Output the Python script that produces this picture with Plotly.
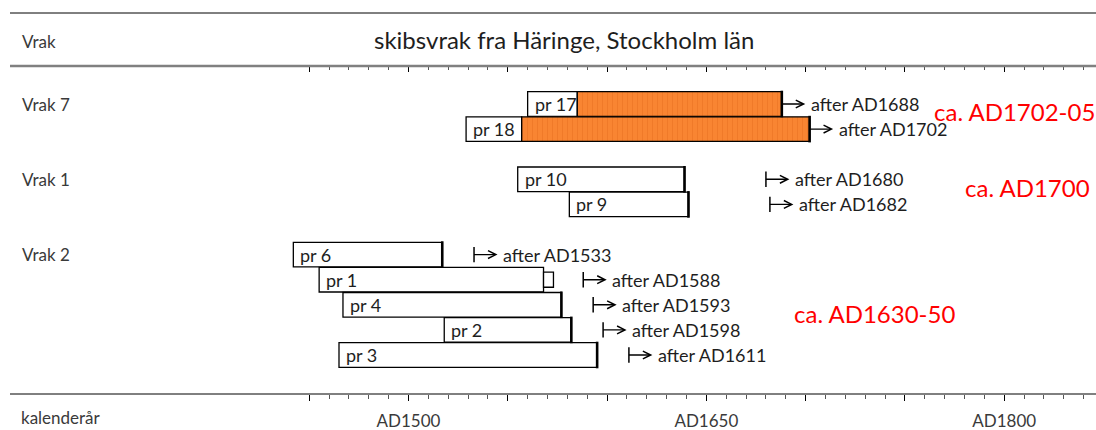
import plotly.graph_objects as go

# ---------------- data ----------------
samples      = ["pr 17", "pr 18", "pr 10", "pr 9", "pr 6", "pr 1", "pr 4", "pr 2", "pr 3"]
rows         = [0, 1, 3, 4, 6, 7, 8, 9, 10]
first_ring   = [1560, 1529, 1555, 1581, 1442, 1455, 1467, 1518, 1465]
white_end    = [1585, 1557, 1639, 1641, 1517, 1568, 1577, 1582, 1595]
last_ring    = [1688, 1702, 1639, 1641, 1517, 1573, 1577, 1582, 1595]
extra_kind   = ["orange", "orange", "", "", "", "white", "", "", ""]
felling_after = [1688, 1702, 1680, 1682, 1533, 1588, 1593, 1598, 1611]
end_mark     = [True, True, True, True, True, False, True, True, True]
tail_bar     = [False, False, True, True, True, True, True, True, True]

ships        = ["Vrak 7", "Vrak 1", "Vrak 2"]
ship_rows    = [0, 3, 6]
ship_dates   = ["ca. AD1702-05", "ca. AD1700", "ca. AD1630-50"]

major_ticks  = [1450, 1500, 1550, 1600, 1650, 1700, 1750, 1800]
major_labels = ["", "AD1500", "", "", "AD1650", "", "", "AD1800"]
minor_ticks  = [y for y in range(1450, 1850, 10) if y not in major_ticks]

# ---------------- layout constants ----------------
W, H = 1096, 430
PX_PER_YEAR = 1.9857
X1500 = 408.5
x0 = 1500 - X1500 / PX_PER_YEAR
x1 = x0 + W / PX_PER_YEAR
TOP, BOTTOM = 66, 394
ROW_PX = 25.1
r_top = -(104 - TOP) / ROW_PX
r_bot = r_top + (BOTTOM - TOP) / ROW_PX
PLOT_H = BOTTOM - TOP

def paper_y(py):
    return (BOTTOM - py) / PLOT_H

FONT = "Lato"
LABEL_COL = "#3a3a3a"
TEXT_COL = "#1e1e1e"
date_label_pos = [(1763.5, 0.28), (1779.0, 3.32), (1693.0, 8.36)]

fig = go.Figure()

# white (heartwood) parts
fig.add_trace(go.Bar(
    y=rows, base=first_ring,
    x=[e - s for s, e in zip(first_ring, white_end)],
    orientation="h", width=0.98,
    marker=dict(color="white", line=dict(color="black", width=1.3)),
    showlegend=False, hoverinfo="skip"))

# orange sapwood parts
oi = [i for i, k in enumerate(extra_kind) if k == "orange"]
fig.add_trace(go.Bar(
    y=[rows[i] for i in oi], base=[white_end[i] for i in oi],
    x=[last_ring[i] - white_end[i] for i in oi],
    orientation="h", width=0.98,
    marker=dict(color="#F98532", line=dict(color="black", width=1.3),
                pattern=dict(shape="|", fillmode="overlay", fgcolor="#E8701F",
                             bgcolor="#F98532", size=5, solidity=0.2)),
    showlegend=False, hoverinfo="skip"))

# white sapwood box
wi = [i for i, k in enumerate(extra_kind) if k == "white"]
fig.add_trace(go.Bar(
    y=[rows[i] for i in wi], base=[white_end[i] for i in wi],
    x=[last_ring[i] - white_end[i] for i in wi],
    orientation="h", width=0.6,
    marker=dict(color="white", line=dict(color="black", width=1.3)),
    showlegend=False, hoverinfo="skip"))

# thick end marks
mi = [i for i in range(len(samples)) if end_mark[i]]
fig.add_trace(go.Scatter(
    x=[last_ring[i] for i in mi], y=[rows[i] for i in mi], mode="markers",
    marker=dict(symbol="line-ns", size=19, line=dict(color="black", width=2.6)),
    showlegend=False, hoverinfo="skip"))

# tail bars of arrows
ti = [i for i in range(len(samples)) if tail_bar[i]]
fig.add_trace(go.Scatter(
    x=[felling_after[i] for i in ti], y=[rows[i] for i in ti], mode="markers",
    marker=dict(symbol="line-ns", size=11, line=dict(color="black", width=1.5)),
    showlegend=False, hoverinfo="skip"))

ann = []
for i, s in enumerate(samples):
    ann.append(dict(x=first_ring[i], y=rows[i], xref="x", yref="y", text=s,
                    showarrow=False, xanchor="left", xshift=5,
                    font=dict(family=FONT, size=18, color=TEXT_COL)))
    ann.append(dict(x=felling_after[i], y=rows[i], xref="x", yref="y", text="",
                    showarrow=True, ax=25, ay=0, arrowside="start",
                    startarrowhead=5, startarrowsize=1.1, arrowwidth=1.4,
                    arrowcolor="black"))
    ann.append(dict(x=felling_after[i], y=rows[i], xref="x", yref="y",
                    text=f"after AD{felling_after[i]}", showarrow=False,
                    xanchor="left", xshift=27,
                    font=dict(family=FONT, size=18, color=TEXT_COL)))

for name, r, d, (px, py) in zip(ships, ship_rows, ship_dates, date_label_pos):
    ann.append(dict(x=20 / W, y=r, xref="paper", yref="y", text=name,
                    showarrow=False, xanchor="left",
                    font=dict(family=FONT, size=17, color=LABEL_COL)))
    ann.append(dict(x=px, y=py, xref="x", yref="y", text=d, showarrow=False,
                    xanchor="left", font=dict(family=FONT, size=24, color="#FF0000")))

ann.append(dict(x=564 / W, y=paper_y(40), xref="paper", yref="paper",
                text="skibsvrak fra Häringe, Stockholm län", showarrow=False,
                xanchor="center", yanchor="middle",
                font=dict(family=FONT, size=24, color=TEXT_COL)))
ann.append(dict(x=20 / W, y=paper_y(42), xref="paper", yref="paper", text="Vrak",
                showarrow=False, xanchor="left", yanchor="middle",
                font=dict(family=FONT, size=17, color=LABEL_COL)))
ann.append(dict(x=20 / W, y=paper_y(429), xref="paper", yref="paper", text="kalenderår",
                showarrow=False, xanchor="left", yanchor="bottom", borderpad=0,
                font=dict(family=FONT, size=17, color=LABEL_COL)))

shapes = [
    dict(type="line", xref="paper", yref="paper", x0=10 / W, x1=1, y0=paper_y(13), y1=paper_y(13),
         line=dict(color="black", width=1)),
    dict(type="line", xref="paper", yref="paper", x0=10 / W, x1=1, y0=1, y1=1,
         line=dict(color="#808080", width=2.5)),
    dict(type="line", xref="paper", yref="paper", x0=10 / W, x1=1, y0=0, y1=0,
         line=dict(color="black", width=1)),
]

axis_common = dict(range=[x0, x1], showgrid=False, zeroline=False, showline=False,
                   automargin=False,
                   tickmode="array", tickvals=major_ticks, ticklen=6, tickwidth=1,
                   tickcolor="black",
                   minor=dict(tickmode="array", tickvals=minor_ticks, ticks="", ticklen=4,
                              tickwidth=1, tickcolor="#555", showgrid=False))

fig.update_layout(
    width=W, height=H,
    margin=dict(l=0, r=0, t=TOP, b=H - BOTTOM, autoexpand=False),
    paper_bgcolor="white", plot_bgcolor="white",
    barmode="overlay", showlegend=False,
    xaxis=dict(**axis_common, ticks="outside", ticktext=major_labels,
               ticklabelstandoff=6,
               tickfont=dict(family=FONT, size=17, color=LABEL_COL)),
    xaxis2=dict(**axis_common, overlaying="x", side="top", ticks="inside",
                showticklabels=False, matches="x"),
    yaxis=dict(range=[r_bot, r_top], visible=False),
    annotations=ann, shapes=shapes,
)
fig.update_layout(xaxis_minor_ticks="outside", xaxis2_minor_ticks="inside")
# dummy trace to activate top axis
fig.add_trace(go.Scatter(x=[major_ticks[0]], y=[r_top - 5], xaxis="x2", mode="markers",
                         marker=dict(opacity=0), showlegend=False, hoverinfo="skip"))

fig.write_html("out.html", config={"displayModeBar": False},
               post_script="document.body.style.margin='0';document.body.style.overflow='hidden';")
